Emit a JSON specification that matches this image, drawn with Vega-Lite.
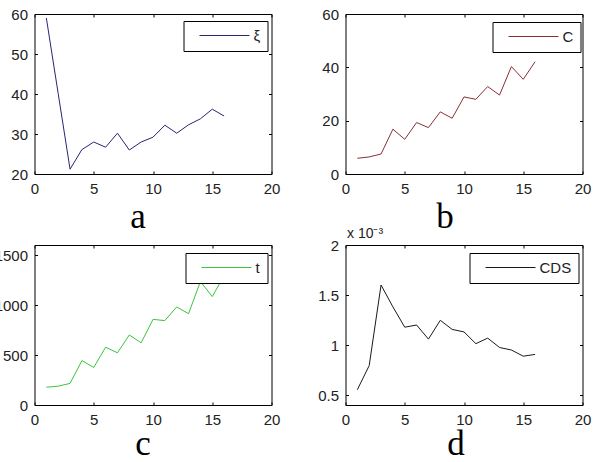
{
  "$schema": "https://vega.github.io/schema/vega-lite/v6.json",
  "background": "white",
  "padding": {"left": -6.5, "top": 6, "right": 8, "bottom": 0},
  "config": {
    "view": {"stroke": "#000", "strokeWidth": 1},
    "axis": {
      "domain": false, "grid": false, "ticks": true, "tickSize": -3, "tickColor": "#000",
      "labelFont": "Liberation Sans", "labelFontSize": 15, "labelColor": "#222",
      "labelFlush": false, "labelOverlap": false, "labelPadding": 10,
      "titleFont": "Liberation Serif", "titleFontSize": 35, "titleFontWeight": "normal", "titleColor": "#000",
      "titleAlign": "center", "titleBaseline": "alphabetic"
    },
    "legend": {
      "orient": "none", "strokeColor": "#000", "fillColor": "white", "padding": 7,
      "symbolType": "M1.5,0H51.5", "symbolSize": 4, "symbolStrokeWidth": 1,
      "labelFont": "Liberation Sans", "labelFontSize": 15, "labelColor": "#222", "labelOffset": 48
    },
    "line": {"strokeWidth": 1}
  },
  "datasets": {
    "xi": [
      {"x": 1, "y": 59.0}, {"x": 2, "y": 40.1}, {"x": 3, "y": 21.2}, {"x": 4, "y": 26.1},
      {"x": 5, "y": 28.0}, {"x": 6, "y": 26.7}, {"x": 7, "y": 30.2}, {"x": 8, "y": 26.0},
      {"x": 9, "y": 28.0}, {"x": 10, "y": 29.2}, {"x": 11, "y": 32.2}, {"x": 12, "y": 30.2},
      {"x": 13, "y": 32.3}, {"x": 14, "y": 33.8}, {"x": 15, "y": 36.2}, {"x": 16, "y": 34.5}
    ],
    "C": [
      {"x": 1, "y": 5.9}, {"x": 2, "y": 6.4}, {"x": 3, "y": 7.5}, {"x": 4, "y": 16.8},
      {"x": 5, "y": 13.0}, {"x": 6, "y": 19.3}, {"x": 7, "y": 17.4}, {"x": 8, "y": 23.3},
      {"x": 9, "y": 20.9}, {"x": 10, "y": 28.9}, {"x": 11, "y": 28.0}, {"x": 12, "y": 32.8},
      {"x": 13, "y": 29.6}, {"x": 14, "y": 40.3}, {"x": 15, "y": 35.5}, {"x": 16, "y": 42.1}
    ],
    "t": [
      {"x": 1, "y": 178}, {"x": 2, "y": 188}, {"x": 3, "y": 216}, {"x": 4, "y": 444},
      {"x": 5, "y": 375}, {"x": 6, "y": 578}, {"x": 7, "y": 522}, {"x": 8, "y": 700},
      {"x": 9, "y": 622}, {"x": 10, "y": 856}, {"x": 11, "y": 844}, {"x": 12, "y": 981},
      {"x": 13, "y": 913}, {"x": 14, "y": 1235}, {"x": 15, "y": 1084}, {"x": 16, "y": 1295}
    ],
    "CDS": [
      {"x": 1, "y": 0.000553}, {"x": 2, "y": 0.000794}, {"x": 3, "y": 0.0016}, {"x": 4, "y": 0.001381},
      {"x": 5, "y": 0.001178}, {"x": 6, "y": 0.0012}, {"x": 7, "y": 0.001059}, {"x": 8, "y": 0.001247},
      {"x": 9, "y": 0.001156}, {"x": 10, "y": 0.001131}, {"x": 11, "y": 0.001013}, {"x": 12, "y": 0.001069},
      {"x": 13, "y": 0.000975}, {"x": 14, "y": 0.00095}, {"x": 15, "y": 0.000888}, {"x": 16, "y": 0.000906}
    ]
  },
  "columns": 2,
  "spacing": {"row": 71, "column": 74},
  "bounds": "flush",
  "resolve": {"scale": {"color": "independent", "x": "independent", "y": "independent"}, "legend": {"color": "independent"}},
  "concat": [
    {
      "width": 237, "height": 160,
      "data": {"name": "xi"},
      "resolve": {"axis": {"x": "independent", "y": "independent"}},
      "layer": [
        {
          "mark": {"type": "line"},
          "encoding": {
            "x": {"field": "x", "type": "quantitative", "scale": {"domain": [0, 20]},
                  "axis": {"orient": "bottom", "values": [0, 5, 10, 15, 20], "title": "a", "titleX": 103, "titleY": 53}},
            "y": {"field": "y", "type": "quantitative", "scale": {"domain": [20, 60], "zero": false},
                  "axis": {"orient": "left", "values": [20, 30, 40, 50, 60], "title": null}},
            "color": {"datum": "ξ", "type": "nominal", "scale": {"range": ["#262673"]},
                      "legend": {"title": null, "legendX": 149, "legendY": 7}}
          }
        },
        {
          "mark": {"type": "line", "opacity": 0},
          "encoding": {
            "x": {"field": "x", "type": "quantitative", "axis": {"orient": "top", "values": [0, 5, 10, 15, 20], "labels": false, "title": null}},
            "y": {"field": "y", "type": "quantitative", "axis": {"orient": "right", "values": [20, 30, 40, 50, 60], "labels": false, "title": null}}
          }
        }
      ]
    },
    {
      "width": 237, "height": 160,
      "data": {"name": "C"},
      "resolve": {"axis": {"x": "independent", "y": "independent"}},
      "layer": [
        {
          "mark": {"type": "line"},
          "encoding": {
            "x": {"field": "x", "type": "quantitative", "scale": {"domain": [0, 20]},
                  "axis": {"orient": "bottom", "values": [0, 5, 10, 15, 20], "title": "b", "titleX": 99, "titleY": 53}},
            "y": {"field": "y", "type": "quantitative", "scale": {"domain": [0, 60]},
                  "axis": {"orient": "left", "values": [0, 20, 40, 60], "title": null}},
            "color": {"datum": "C", "type": "nominal", "scale": {"range": ["#8a2f35"]},
                      "legend": {"title": null, "legendX": 147, "legendY": 8}}
          }
        },
        {
          "mark": {"type": "line", "opacity": 0},
          "encoding": {
            "x": {"field": "x", "type": "quantitative", "axis": {"orient": "top", "values": [0, 5, 10, 15, 20], "labels": false, "title": null}},
            "y": {"field": "y", "type": "quantitative", "axis": {"orient": "right", "values": [0, 20, 40, 60], "labels": false, "title": null}}
          }
        }
      ]
    },
    {
      "width": 237, "height": 160,
      "data": {"name": "t"},
      "resolve": {"axis": {"x": "independent", "y": "independent"}},
      "layer": [
        {
          "mark": {"type": "line"},
          "encoding": {
            "x": {"field": "x", "type": "quantitative", "scale": {"domain": [0, 20]},
                  "axis": {"orient": "bottom", "values": [0, 5, 10, 15, 20], "title": "c", "titleX": 108, "titleY": 49}},
            "y": {"field": "y", "type": "quantitative", "scale": {"domain": [0, 1500]},
                  "axis": {"orient": "left", "values": [0, 500, 1000, 1500], "format": "d", "title": null}},
            "color": {"datum": "t", "type": "nominal", "scale": {"range": ["#3cc43c"]},
                      "legend": {"title": null, "legendX": 151, "legendY": 8}}
          }
        },
        {
          "mark": {"type": "line", "opacity": 0},
          "encoding": {
            "x": {"field": "x", "type": "quantitative", "axis": {"orient": "top", "values": [0, 5, 10, 15, 20], "labels": false, "title": null}},
            "y": {"field": "y", "type": "quantitative", "axis": {"orient": "right", "values": [0, 500, 1000, 1500], "labels": false, "title": null}}
          }
        }
      ]
    },
    {
      "width": 237, "height": 160,
      "data": {"name": "CDS"},
      "resolve": {"axis": {"x": "independent", "y": "independent"}},
      "layer": [
        {
          "mark": {"type": "line"},
          "encoding": {
            "x": {"field": "x", "type": "quantitative", "scale": {"domain": [0, 20]},
                  "axis": {"orient": "bottom", "values": [0, 5, 10, 15, 20], "title": "d", "titleX": 110, "titleY": 49}},
            "y": {"field": "y", "type": "quantitative", "scale": {"domain": [0.0005, 0.002], "zero": false},
                  "axis": {"orient": "left", "values": [0.0005, 0.001, 0.0015, 0.002],
                           "labelExpr": "format(datum.value * 1000, '~g')",
                           "title": "x 10⁻³", "titleAngle": 0, "titleX": 1, "titleY": -8,
                           "titleAlign": "left", "titleBaseline": "alphabetic",
                           "titleFont": "Liberation Sans", "titleFontSize": 14, "titleColor": "#222"}},
            "color": {"datum": "CDS", "type": "nominal", "scale": {"range": ["#1a1a1a"]},
                      "legend": {"title": null, "legendX": 124, "legendY": 8}}
          }
        },
        {
          "mark": {"type": "line", "opacity": 0},
          "encoding": {
            "x": {"field": "x", "type": "quantitative", "axis": {"orient": "top", "values": [0, 5, 10, 15, 20], "labels": false, "title": null}},
            "y": {"field": "y", "type": "quantitative", "axis": {"orient": "right", "values": [0.0005, 0.001, 0.0015, 0.002], "labels": false, "title": null}}
          }
        }
      ]
    }
  ]
}
